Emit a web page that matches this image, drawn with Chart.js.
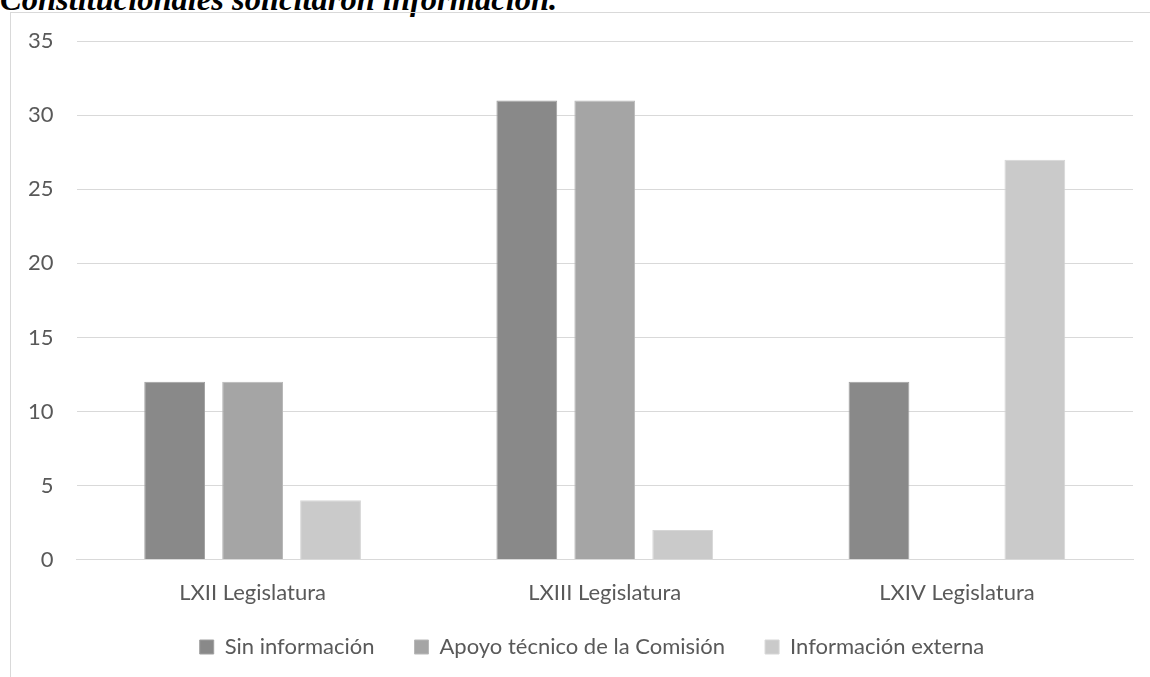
<!DOCTYPE html>
<html>
<head>
<meta charset="utf-8">
<script src="https://cdn.jsdelivr.net/npm/chart.js@4"></script>
<style>
  html, body { margin: 0; padding: 0; background: #fff; }
  body { width: 1150px; height: 677px; position: relative; overflow: hidden; }
  #title {
    position: absolute; left: 0; top: -17px; line-height: 32px;
    font-family: "Liberation Serif", "Times New Roman", serif;
    font-weight: bold; font-style: italic; font-size: 32.5px;
    color: #000; white-space: nowrap;
  }
  #box {
    position: absolute; left: 10px; top: 12px; width: 1150px; height: 680px;
    border: 1px solid #d9d9d9; box-sizing: border-box;
  }
  #wrap { position: absolute; left: 5px; top: 5px; width: 1135px; height: 685px; }
</style>
</head>
<body>
<div id="title">Constitucionales solicitaron información.</div>
<div id="box"></div>
<div id="wrap"><canvas id="chart"></canvas></div>
<script>
const categories = ["LXII Legislatura", "LXIII Legislatura", "LXIV Legislatura"];
const sinInformacion = [12, 31, 12];
const apoyoTecnico = [12, 31, 0];
const informacionExterna = [4, 2, 27];
const yTicks = [0, 5, 10, 15, 20, 25, 30, 35];

const ctx = document.getElementById("chart").getContext("2d");

// legend padding is also used for the gaps between items; pull the row up a bit
const legendLift = {
  id: "legendLift",
  afterLayout(chart) {
    chart.legend.top -= 22;
    chart.legend.bottom -= 22;
    chart.legend.left += 23;
    chart.legend.right += 23;
  },
};

new Chart(ctx, {
  type: "bar",
  data: {
    labels: categories,
    datasets: [
      {
        label: "Sin información",
        data: sinInformacion,
        backgroundColor: "#898989",
        borderColor: "#a0a0a0",
        borderWidth: 1,
      },
      {
        label: "Apoyo técnico de la Comisión",
        data: apoyoTecnico,
        backgroundColor: "#a5a5a5",
        borderColor: "#b8b8b8",
        borderWidth: 1,
      },
      {
        label: "Información externa",
        data: informacionExterna,
        backgroundColor: "#cacaca",
        borderColor: "#d6d6d6",
        borderWidth: 1,
      },
    ],
  },
  options: {
    responsive: true,
    maintainAspectRatio: false,
    animation: false,
    categoryPercentage: 0.664,
    barPercentage: 0.78,
    layout: { padding: { top: 2, right: 7, left: 0, bottom: 0 } },
    scales: {
      x: {
        grid: { display: false },
        border: { display: true, color: "#d9d9d9" },
        ticks: { color: "#595959", font: { family: "Lato", size: 22 }, padding: 12 },
      },
      y: {
        min: 0,
        max: 35,
        afterBuildTicks: (axis) => { axis.ticks = yTicks.map((v) => ({ value: v })); },
        grid: { color: "#d9d9d9", drawTicks: false },
        border: { display: false },
        ticks: { color: "#595959", font: { family: "Lato", size: 22 }, padding: 23 },
      },
    },
    plugins: {
      tooltip: { enabled: false },
      legend: {
        position: "bottom",
        labels: {
          color: "#595959",
          font: { family: "Lato", size: 22 },
          boxWidth: 14,
          boxHeight: 14,
          padding: 40,
        },
      },
    },
  },
  plugins: [legendLift],
});
</script>
</body>
</html>
